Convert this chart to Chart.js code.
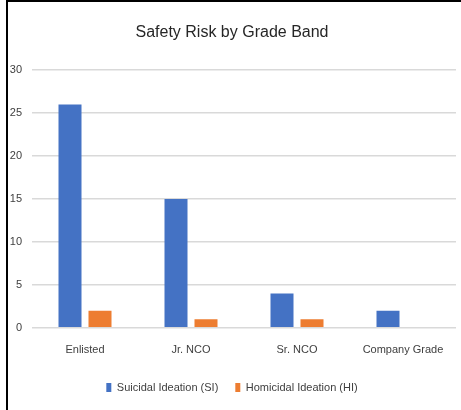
<!DOCTYPE html>
<html lang="en">
<head>
    <meta charset="UTF-8">
    <title>Safety Risk by Grade Band</title>
    <style>
        body {
            margin: 0;
            background: white;
        }
        /* frame: black line on top and on the left only */
        #frame {
            position: absolute;
            left: 6px;
            top: 0;
            width: 453px;
            height: 408px;
            border-left: 2px solid black;
            border-top: 2px solid black;
        }
        #chart {
            display: block;
        }
    </style>
</head>
<body>
    <div id="frame">
        <canvas id="chart" width="453" height="408"></canvas>
    </div>

    <script src="https://cdn.jsdelivr.net/npm/chart.js"></script>
    <script>
        const categories = ['Enlisted', 'Jr. NCO', 'Sr. NCO', 'Company Grade'];
        const siValues = [26, 15, 4, 2];
        const hiValues = [2, 1, 1, 0];
        const seriesNames = ['Suicidal Ideation (SI)', 'Homicidal Ideation (HI)'];

        const fontName = "'Liberation Sans', Arial, sans-serif";

        new Chart(document.getElementById('chart').getContext('2d'), {
            type: 'bar',
            data: {
                labels: categories,
                datasets: [
                    {
                        label: seriesNames[0],
                        data: siValues,
                        backgroundColor: '#4472C4',
                        categoryPercentage: 0.566,
                        barPercentage: 0.767
                    },
                    {
                        label: seriesNames[1],
                        data: hiValues,
                        backgroundColor: '#ED7D31',
                        categoryPercentage: 0.566,
                        barPercentage: 0.767
                    }
                ]
            },
            options: {
                responsive: false,
                animation: false,
                layout: {
                    padding: { top: 21, right: 5, bottom: 7, left: 0 }
                },
                plugins: {
                    title: {
                        display: true,
                        text: 'Safety Risk by Grade Band',
                        color: '#262626',
                        font: { family: fontName, size: 16, weight: 'normal' },
                        padding: { top: 0, bottom: 28 }
                    },
                    legend: {
                        position: 'bottom',
                        labels: {
                            color: '#404040',
                            font: { family: fontName, size: 11 },
                            boxWidth: 5,
                            boxHeight: 9,
                            padding: 17
                        }
                    },
                    tooltip: { enabled: false }
                },
                scales: {
                    x: {
                        grid: { display: false },
                        border: { display: false },
                        ticks: {
                            color: '#404040',
                            font: { family: fontName, size: 11 },
                            padding: 8
                        }
                    },
                    y: {
                        min: 0,
                        max: 30,
                        ticks: {
                            stepSize: 5,
                            color: '#404040',
                            font: { family: fontName, size: 11 },
                            padding: 10
                        },
                        grid: {
                            color: '#d9d9d9',
                            lineWidth: 1.5,
                            drawTicks: false
                        },
                        border: { display: false },
                        afterFit: (axis) => { axis.width = 24; }
                    }
                }
            }
        });
    </script>
</body>
</html>
